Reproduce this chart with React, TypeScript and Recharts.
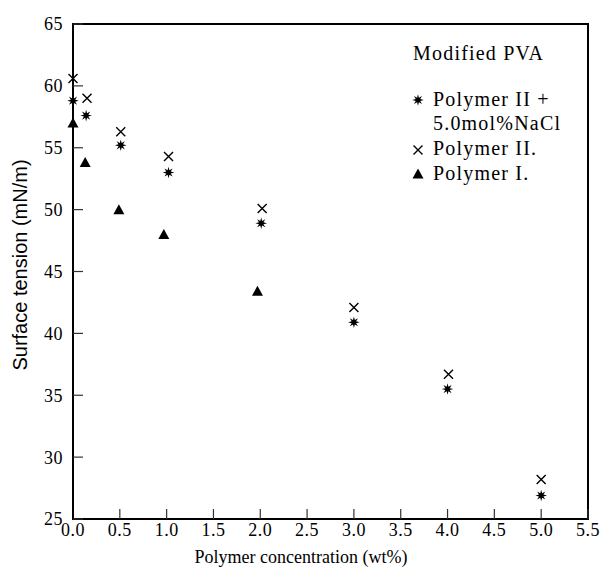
import React from 'react';
import { ScatterChart, Scatter, XAxis, YAxis, ReferenceArea } from 'recharts';

// concentration (wt%) and surface tension (mN/m)
const saltX = [0, 0.14, 0.51, 1.02, 2.01, 3.0, 4.0, 5.0];
const saltY = [58.8, 57.6, 55.2, 53.0, 48.9, 40.9, 35.5, 26.9];

const polyTwoX = [0, 0.15, 0.51, 1.02, 2.02, 3.0, 4.01, 5.0];
const polyTwoY = [60.6, 59.0, 56.3, 54.3, 50.1, 42.1, 36.7, 28.2];

const polyOneX = [0, 0.13, 0.49, 0.97, 1.97];
const polyOneY = [57.0, 53.8, 50.0, 48.0, 43.4];

const xTicks = [0, 0.5, 1, 1.5, 2, 2.5, 3, 3.5, 4, 4.5, 5, 5.5];
const yTicks = [25, 30, 35, 40, 45, 50, 55, 60, 65];

const legendTitle = 'Modified PVA';
const legendRows = ['Polymer II  +', '5.0mol%NaCl', 'Polymer II.', 'Polymer I.'];

const toPoints = (xs: number[], ys: number[]) => xs.map((x, i) => ({ x, y: ys[i] }));

const saltData = toPoints(saltX, saltY);
const polyTwoData = toPoints(polyTwoX, polyTwoY);
const polyOneData = toPoints(polyOneX, polyOneY);

const serif = 'Liberation Serif';
const sans = 'Liberation Sans';

const starPath = (cx: number, cy: number) => {
  const pts: string[] = [];
  for (let i = 0; i < 16; i++) {
    const r = i % 2 === 0 ? 5.8 : 2.4;
    const a = (Math.PI / 8) * i - Math.PI / 2;
    pts.push(`${cx + r * Math.cos(a)},${cy + r * Math.sin(a)}`);
  }
  return pts.join(' ');
};

const AsteriskMark = ({ cx, cy }: any) => (
  <polygon points={starPath(cx, cy)} fill="#000" />
);

const CrossMark = ({ cx, cy }: any) => (
  <path
    d={`M${cx - 4.5},${cy - 4.5}L${cx + 4.5},${cy + 4.5}M${cx - 4.5},${cy + 4.5}L${cx + 4.5},${cy - 4.5}`}
    stroke="#000"
    strokeWidth={1.4}
    fill="none"
  />
);

const TriangleMark = ({ cx, cy }: any) => (
  <polygon points={`${cx},${cy - 5.5} ${cx - 5.5},${cy + 4.5} ${cx + 5.5},${cy + 4.5}`} fill="#000" />
);

export default function App() {
  const tickStyle = { fill: '#000', fontSize: 18, style: { fontFamily: serif, letterSpacing: '0.5px' } };
  const legendText = { fontSize: 20, fill: '#000', style: { fontFamily: serif, letterSpacing: '1.2px' } };

  return (
    <div style={{ position: 'absolute', left: 0, top: 0, width: 603, height: 568, background: '#fff', fontFamily: serif }}>
      <ScatterChart width={603} height={568} margin={{ top: 24, right: 15, bottom: 19, left: 0 }}>
        <XAxis
          type="number"
          dataKey="x"
          domain={[0, 5.5]}
          ticks={xTicks}
          height={30}
          tickSize={-10}
          tickMargin={14}
          tickFormatter={(v: number) => v.toFixed(1)}
          axisLine={{ stroke: '#000', strokeWidth: 2 }}
          tickLine={{ stroke: '#333', strokeWidth: 1.2 }}
          tick={tickStyle}
          interval={0}
        />
        <YAxis
          type="number"
          dataKey="y"
          domain={[25, 65]}
          ticks={yTicks}
          width={73}
          tickSize={-10}
          tickMargin={20}
          axisLine={{ stroke: '#000', strokeWidth: 2 }}
          tickLine={{ stroke: '#333', strokeWidth: 1.2 }}
          tick={tickStyle}
          interval={0}
        />
        <ReferenceArea x1={0} x2={5.5} y1={25} y2={65} fill="none" fillOpacity={0} stroke="#000" strokeWidth={2} />
        <Scatter data={polyTwoData} shape={CrossMark} isAnimationActive={false} />
        <Scatter data={saltData} shape={AsteriskMark} isAnimationActive={false} />
        <Scatter data={polyOneData} shape={TriangleMark} isAnimationActive={false} />
      </ScatterChart>

      <svg width={603} height={568} style={{ position: 'absolute', left: 0, top: 0, pointerEvents: 'none' }}>
        <text
          transform="translate(20,265) rotate(-90)"
          textAnchor="middle"
          dominantBaseline="central"
          fontSize={20}
          fill="#000"
          style={{ fontFamily: sans }}
        >
          Surface tension (mN/m)
        </text>
        <text x={301} y={563} textAnchor="middle" fontSize={18} fill="#000" style={{ fontFamily: serif }}>
          Polymer concentration (wt%)
        </text>

        <text x={413} y={60} {...legendText}>{legendTitle}</text>
        <AsteriskMark cx={418} cy={100} />
        <text x={433} y={106} {...legendText}>{legendRows[0]}</text>
        <text x={433} y={130} {...legendText}>{legendRows[1]}</text>
        <CrossMark cx={418} cy={150} />
        <text x={433} y={155} {...legendText}>{legendRows[2]}</text>
        <TriangleMark cx={418} cy={174} />
        <text x={433} y={180} {...legendText}>{legendRows[3]}</text>
      </svg>
    </div>
  );
}
